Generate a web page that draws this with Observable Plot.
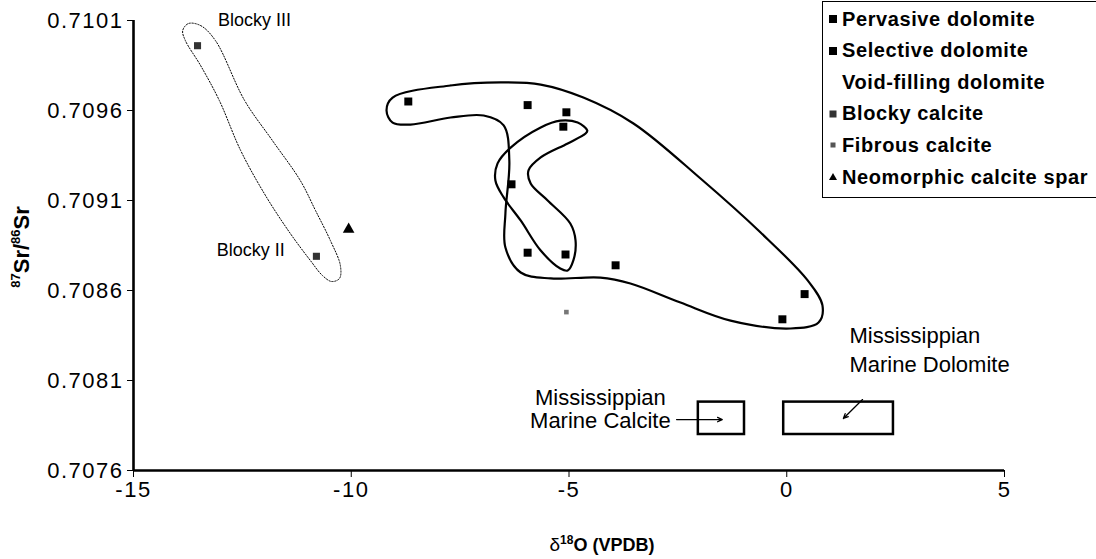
<!DOCTYPE html>
<html>
<head>
<meta charset="utf-8">
<script src="https://cdn.jsdelivr.net/npm/d3@7"></script>
<script src="https://cdn.jsdelivr.net/npm/@observablehq/plot@0.6"></script>
<style>
  body { margin: 0; background: #fff; }
  #chart { position: relative; width: 1096px; height: 559px; font-family: "Liberation Sans", Arial, sans-serif; }
  #legend { position: absolute; left: 822px; top: 1px; width: 274px; height: 197px; border: 1.5px solid #000; border-right: none; background: #fff; box-sizing: border-box; overflow: hidden; }
  #legend .row { position: absolute; left: 3px; height: 22px; display: flex; align-items: center; font-weight: bold; font-size: 20px; letter-spacing: 0.6px; white-space: nowrap; }
  #legend svg { width: 14px; height: 14px; margin-right: 2px; flex: none; }
  g[aria-label$="tick label"] text { letter-spacing: 1.5px; }
  g[aria-label="field label"] text { letter-spacing: 1.5px; }
</style>
</head>
<body>
<div id="chart"></div>
<script>
// Sr isotope ratio vs oxygen isotope composition of the carbonate phases
const pervasiveO = [-8.69, -5.95, -5.06, -5.95, -3.93, 0.41, -0.10];
const pervasiveSr = [0.70965, 0.70963, 0.70959, 0.70881, 0.70874, 0.70858, 0.70844];
const selectiveO = [-5.13, -6.32, -5.08];
const selectiveSr = [0.70951, 0.70919, 0.70880];
const blockyO = [-13.53, -10.80];
const blockySr = [0.70996, 0.70879];
const fibrousO = [-5.06];
const fibrousSr = [0.70848];
const neomorphicO = [-10.06];
const neomorphicSr = [0.70894];

const seriesNames = ["Pervasive dolomite", "Selective dolomite", "Void-filling dolomite",
  "Blocky calcite", "Fibrous calcite", "Neomorphic calcite spar"];

const xTicks = [-15, -10, -5, 0, 5];
const yTicks = [0.7076, 0.7081, 0.7086, 0.7091, 0.7096, 0.7101];

// Hand-drawn grouping outlines (δ18O, 87Sr/86Sr)
const dolomiteOutline = [
  [-9.05, 0.709672], [-7.72, 0.709739], [-6.57, 0.709756], [-5.65, 0.709744], [-4.67, 0.709672],
  [-3.52, 0.709528], [-1.98, 0.709222], [-0.60, 0.708922], [0.48, 0.708656], [0.82, 0.708517],
  [0.73, 0.708422], [0.09, 0.708389], [-1.29, 0.708433], [-2.44, 0.708533], [-3.59, 0.708639],
  [-4.28, 0.708672], [-5.42, 0.708667], [-6.11, 0.708700], [-6.46, 0.708839], [-6.46, 0.709028],
  [-6.37, 0.709322], [-6.50, 0.709517], [-6.96, 0.709572], [-7.72, 0.709561], [-8.64, 0.709522],
  [-9.05, 0.709533], [-9.19, 0.709600]
];
const selectiveOutline = [
  [-4.58, 0.709489], [-4.80, 0.709533], [-5.20, 0.709544], [-5.65, 0.709506], [-6.34, 0.709394],
  [-6.64, 0.709306], [-6.69, 0.709211], [-6.50, 0.709117], [-6.11, 0.708989], [-5.65, 0.708822],
  [-5.20, 0.708722], [-5.03, 0.708711], [-4.90, 0.708767], [-4.85, 0.708878], [-4.97, 0.708972],
  [-5.49, 0.709100], [-5.88, 0.709194], [-5.93, 0.709267], [-5.65, 0.709339], [-5.03, 0.709417],
  [-4.62, 0.709472]
];
const blockyOutline = [
  [-13.74, 0.710083], [-13.46, 0.710072], [-13.12, 0.709989], [-12.45, 0.709656], [-11.81, 0.709433],
  [-11.17, 0.709211], [-10.82, 0.709044], [-10.48, 0.708878], [-10.25, 0.708739], [-10.27, 0.708667],
  [-10.45, 0.708650], [-10.66, 0.708683], [-10.94, 0.708767], [-11.40, 0.708917], [-11.97, 0.709128],
  [-12.54, 0.709378], [-13.03, 0.709656], [-13.46, 0.709850], [-13.81, 0.709989], [-13.87, 0.710044]
];

// Mississippian marine reference fields
const marineFields = [
  {name: "calcite", o1: -2.03, o2: -0.97, sr1: 0.70780, sr2: 0.70798},
  {name: "dolomite", o1: -0.07, o2: 2.45, sr1: 0.70780, sr2: 0.70798}
];
const fieldArrows = [
  {o1: -2.53, sr1: 0.707883, o2: -1.48, sr2: 0.707883},
  {o1: 1.74, sr1: 0.707994, o2: 1.30, sr2: 0.707889}
];

const toRows = (xs, ys) => xs.map((x, i) => ({x, y: ys[i]}));
const toPts = arr => arr.map(([x, y]) => ({x, y}));

const outlineStyle = {x: "x", y: "y", curve: "catmull-rom-closed", stroke: "#000", fill: "none"};

const plot = Plot.plot({
  width: 1096,
  height: 559,
  marginLeft: 133,
  marginRight: 92,
  marginTop: 20,
  marginBottom: 89,
  style: {fontFamily: "'Liberation Sans', Arial, sans-serif", fontSize: "18px", color: "#000", background: "#fff", overflow: "visible"},
  x: {domain: [-15, 5]},
  y: {domain: [0.7076, 0.7101]},
  marks: [
    Plot.line(toPts(blockyOutline), {...outlineStyle, strokeWidth: 1, strokeDasharray: "1.3,1.7"}),
    Plot.line(toPts(dolomiteOutline), {...outlineStyle, strokeWidth: 2.2}),
    Plot.line(toPts(selectiveOutline), {...outlineStyle, strokeWidth: 2.2}),
    Plot.rect(marineFields, {x1: "o1", x2: "o2", y1: "sr1", y2: "sr2", fill: "none", stroke: "#000", strokeWidth: 2.5}),
    Plot.arrow(fieldArrows, {x1: "o1", y1: "sr1", x2: "o2", y2: "sr2", stroke: "#000", strokeWidth: 1.3, headLength: 6, headAngle: 50}),
    Plot.dot(toRows(pervasiveO, pervasiveSr), {x: "x", y: "y", symbol: "square", r: 4.5, fill: "#000", stroke: "none"}),
    Plot.dot(toRows(selectiveO, selectiveSr), {x: "x", y: "y", symbol: "square", r: 4.5, fill: "#000", stroke: "none"}),
    Plot.dot(toRows(blockyO, blockySr), {x: "x", y: "y", symbol: "square", r: 4, fill: "#333", stroke: "none"}),
    Plot.dot(toRows(fibrousO, fibrousSr), {x: "x", y: "y", symbol: "square", r: 2.6, fill: "#777", stroke: "none"}),
    Plot.dot(toRows(neomorphicO, neomorphicSr), {x: "x", y: "y", symbol: "triangle", r: 4.3, fill: "#000", stroke: "none"}),
    Plot.text(["Blocky III"], {x: -12.22, y: 0.7101, text: d => d, textAnchor: "middle", fontSize: 18}),
    Plot.text(["Blocky II"], {x: -12.31, y: 0.708822, text: d => d, textAnchor: "middle", fontSize: 18}),
    Plot.text(["Mississippian\nMarine Calcite"], {x: -4.28, y: 0.70794, text: d => d, textAnchor: "middle", lineHeight: 1.05, fontSize: 22, ariaLabel: "field label"}),
    Plot.text(["Mississippian\nMarine Dolomite"], {x: 1.44, y: 0.70828, text: d => d, textAnchor: "start", lineHeight: 1.33, fontSize: 22, ariaLabel: "field label"}),
    Plot.ruleX([-15], {stroke: "#000", strokeWidth: 2.6}),
    Plot.ruleY([0.7076], {stroke: "#000", strokeWidth: 2.6}),
    Plot.axisX({ticks: xTicks, tickFormat: d => String(d), tickSize: 7, tickPadding: 4, tickWidth: 2, label: null, fontSize: 22}),
    Plot.axisY({ticks: yTicks, tickFormat: d3.format(".4f"), tickSize: 6, tickPadding: 4, tickWidth: 2, label: null, fontSize: 22})
  ]
});

const chart = document.getElementById("chart");
chart.appendChild(plot);

// Axis titles with superscripted isotope masses
const svg = d3.select(plot);
const xt = svg.append("text")
  .attr("x", 602).attr("y", 551)
  .attr("text-anchor", "middle")
  .attr("font-weight", "bold").attr("font-size", 18);
xt.append("tspan").attr("font-weight", "normal").attr("font-size", 19).text("δ");
xt.append("tspan").attr("dy", -7).attr("font-size", 12).text("18");
xt.append("tspan").attr("dy", 7).text("O (VPDB)");

const yt = svg.append("text")
  .attr("transform", "translate(29,247) rotate(-90)")
  .attr("text-anchor", "middle")
  .attr("font-weight", "bold").attr("font-size", 22);
yt.append("tspan").attr("dy", -9).attr("font-size", 13).text("87");
yt.append("tspan").attr("dy", 9).text("Sr/");
yt.append("tspan").attr("dy", -9).attr("font-size", 13).text("86");
yt.append("tspan").attr("dy", 9).text("Sr");

// Legend box
const legend = d3.select(chart).append("div").attr("id", "legend");
const markers = [
  {shape: "square", size: 8, fill: "#000"},
  {shape: "square", size: 8, fill: "#000"},
  {shape: "none"},
  {shape: "square", size: 7, fill: "#333"},
  {shape: "square", size: 5, fill: "#555"},
  {shape: "triangle", size: 8, fill: "#000"}
];
seriesNames.forEach((name, i) => {
  const row = legend.append("div").attr("class", "row").style("top", `${6 + i * 31.6}px`);
  const s = row.append("svg").attr("viewBox", "0 0 14 14");
  const m = markers[i];
  if (m.shape === "square") {
    s.append("rect").attr("x", 7 - m.size / 2).attr("y", 7 - m.size / 2)
      .attr("width", m.size).attr("height", m.size).attr("fill", m.fill);
  } else if (m.shape === "triangle") {
    s.append("path").attr("d", "M7,3 L11,10 L3,10 Z").attr("fill", m.fill);
  }
  row.append("span").text(name);
});
</script>
</body>
</html>
